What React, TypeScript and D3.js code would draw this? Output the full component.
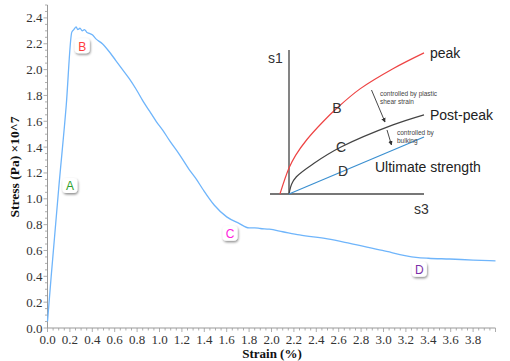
import React from "react";
import * as d3 from "d3";

// Main stress-strain curve (strain in %, stress in Pa x10^7)
const strain = [0, 0.033, 0.1, 0.167, 0.217, 0.235, 0.256, 0.27, 0.29, 0.31, 0.33, 0.35, 0.375, 0.4, 0.43, 0.49, 0.55, 0.61, 0.67, 0.73, 0.79, 0.85, 0.91, 0.97, 1.03, 1.09, 1.18, 1.27, 1.33, 1.39, 1.49, 1.6, 1.71, 1.8, 1.85, 1.9, 1.98, 2.1, 2.25, 2.5, 2.7, 2.99, 3.29, 3.4, 3.59, 3.8, 4.0];
const stress = [0.05, 0.4, 1.08, 1.72, 2.29, 2.31, 2.33, 2.31, 2.32, 2.3, 2.31, 2.29, 2.28, 2.27, 2.24, 2.2, 2.14, 2.07, 2.0, 1.93, 1.85, 1.76, 1.68, 1.6, 1.53, 1.45, 1.34, 1.22, 1.15, 1.07, 0.95, 0.86, 0.81, 0.775, 0.775, 0.77, 0.765, 0.745, 0.72, 0.69, 0.655, 0.6, 0.547, 0.54, 0.534, 0.526, 0.52];

const xTicks = [0, 0.2, 0.4, 0.6, 0.8, 1.0, 1.2, 1.4, 1.6, 1.8, 2.0, 2.2, 2.4, 2.6, 2.8, 3.0, 3.2, 3.4, 3.6, 3.8];
const yTicks = [0, 0.2, 0.4, 0.6, 0.8, 1.0, 1.2, 1.4, 1.6, 1.8, 2.0, 2.2, 2.4];

// Annotation markers on the curve
const markerLabels = ["A", "B", "C", "D"];
const markerStrain = [0.2, 0.31, 1.63, 3.32];
const markerStress = [1.1, 2.18, 0.73, 0.45];
const markerColors = ["#2ca02c", "#ff3b3b", "#ff22dd", "#7a2fa8"];

// Inset schematic (s3, s1) in normalised units
const peakS3 = [-0.067, 0, 0.05, 0.13, 0.25, 0.356, 0.526, 0.77, 1.0];
const peakS1 = [0, 0.18, 0.27, 0.375, 0.5, 0.597, 0.73, 0.87, 0.98];
const postS3 = [0, 0.02, 0.055, 0.18, 0.385, 0.77, 1.0];
const postS1 = [0, 0.07, 0.12, 0.21, 0.326, 0.48, 0.55];
const ultS3 = [0, 1.0];
const ultS1 = [0, 0.396];

export default function App() {
  const W = 510, H = 361;
  const x = d3.scaleLinear().domain([0, 4]).range([47.5, 495.5]);
  const y = d3.scaleLinear().domain([0, 2.5]).range([328, 5]);

  const pts: [number, number][] = strain.map((s, i) => [s, stress[i]]);
  const line = d3.line<[number, number]>().x(d => x(d[0])).y(d => y(d[1])).curve(d3.curveMonotoneX);

  const xMinor = d3.range(0, 4.0001, 0.05);
  const yMinor = d3.range(0, 2.5001, 0.05);

  const ix = d3.scaleLinear().domain([0, 1]).range([289, 424]);
  const iy = d3.scaleLinear().domain([0, 1]).range([194, 50]);
  const iline = d3.line<[number, number]>().x(d => ix(d[0])).y(d => iy(d[1])).curve(d3.curveCatmullRom.alpha(0.5));
  const peakPts: [number, number][] = peakS3.map((v, i) => [v, peakS1[i]]);
  const postPts: [number, number][] = postS3.map((v, i) => [v, postS1[i]]);
  const ultPts: [number, number][] = ultS3.map((v, i) => [v, ultS1[i]]);

  const serif = "'Liberation Serif', 'Times New Roman', serif";
  const sans = "'Liberation Sans', Arial, sans-serif";

  return (
    <svg width={W} height={H} style={{ position: "absolute", left: 0, top: 0, background: "#fff" }}>
      <defs>
        <filter id="sh" x="-50%" y="-50%" width="200%" height="200%">
          <feDropShadow dx="0.8" dy="1.5" stdDeviation="1.2" floodColor="#000" floodOpacity="0.45" />
        </filter>
        <marker id="arr" viewBox="0 0 10 10" refX="9" refY="5" markerWidth="5" markerHeight="5" orient="auto">
          <path d="M0,0 L10,5 L0,10 z" fill="#333" />
        </marker>
      </defs>

      {/* axes */}
      <line x1={x(0)} x2={x(4)} y1={328} y2={328} stroke="#999" strokeWidth={1} />
      <line x1={47.5} x2={47.5} y1={y(2.5)} y2={y(0)} stroke="#999" strokeWidth={1} />
      {xMinor.map((v, i) => (
        <line key={"xm" + i} x1={x(v)} x2={x(v)} y1={328} y2={328 + (i % 4 === 0 ? 4 : 2.5)} stroke="#999" strokeWidth={0.8} />
      ))}
      {yMinor.map((v, i) => (
        <line key={"ym" + i} x1={47.5} x2={47.5 - (i % 4 === 0 ? 4 : 2.5)} y1={y(v)} y2={y(v)} stroke="#999" strokeWidth={0.8} />
      ))}
      {xTicks.map(v => (
        <text key={"xt" + v} x={x(v)} y={343.5} textAnchor="middle" fontFamily={serif} fontSize={13} fill="#333">
          {v.toFixed(1)}
        </text>
      ))}
      {yTicks.map(v => (
        <text key={"yt" + v} x={42.5} y={y(v) + 4.5} textAnchor="end" fontFamily={serif} fontSize={13} fill="#333">
          {v.toFixed(1)}
        </text>
      ))}
      <text x={272} y={358} textAnchor="middle" fontFamily={serif} fontWeight="bold" fontSize={13} fill="#111">
        Strain (%)
      </text>
      <text transform="translate(19,167) rotate(-90)" textAnchor="middle" fontFamily={serif} fontWeight="bold" fontSize={13.5} fill="#111">
        Stress (Pa) ×10^7
      </text>

      {/* curve */}
      <path d={line(pts) || ""} fill="none" stroke="#6fb5fb" strokeWidth={1.3} />

      {/* markers */}
      {markerLabels.map((m, i) => (
        <g key={m} transform={`translate(${x(markerStrain[i])},${y(markerStress[i])})`}>
          <rect x={-7.5} y={-8} width={15} height={15} rx={4} fill="#fff" filter="url(#sh)" />
          <text x={0} y={4.5} textAnchor="middle" fontFamily={sans} fontSize={12} fill={markerColors[i]}>{m}</text>
        </g>
      ))}

      {/* inset schematic */}
      <line x1={270} x2={424} y1={194} y2={194} stroke="#777" strokeWidth={1.8} />
      <line x1={289} x2={289} y1={50} y2={194} stroke="#777" strokeWidth={1.8} />
      <path d={iline(peakPts) || ""} fill="none" stroke="#ee4444" strokeWidth={1.2} />
      <path d={iline(postPts) || ""} fill="none" stroke="#444" strokeWidth={1.2} />
      <path d={iline(ultPts) || ""} fill="none" stroke="#3a8fd0" strokeWidth={1.2} />
      <text x={268} y={63} fontFamily={sans} fontSize={14} fill="#333">s1</text>
      <text x={414} y={214} fontFamily={sans} fontSize={14} fill="#333">s3</text>
      <text x={430} y={58} fontFamily={sans} fontSize={14} fill="#222">peak</text>
      <text x={430} y={120} fontFamily={sans} fontSize={14} fill="#222">Post-peak</text>
      <text x={375} y={172} fontFamily={sans} fontSize={14} fill="#222">Ultimate strength</text>
      <text x={337} y={113} textAnchor="middle" fontFamily={sans} fontSize={14} fill="#333">B</text>
      <text x={341} y={152} textAnchor="middle" fontFamily={sans} fontSize={14} fill="#333">C</text>
      <text x={343} y={176} textAnchor="middle" fontFamily={sans} fontSize={14} fill="#333">D</text>
      <text x={380} y={95.5} fontFamily={sans} fontSize={6.5} fill="#444">controlled by plastic</text>
      <text x={380} y={104} fontFamily={sans} fontSize={6.5} fill="#444">shear strain</text>
      <text x={397} y={134.5} fontFamily={sans} fontSize={6.5} fill="#444">controlled by</text>
      <text x={397} y={143} fontFamily={sans} fontSize={6.5} fill="#444">bulking</text>
      <line x1={371.5} y1={90} x2={385} y2={122} stroke="#333" strokeWidth={0.9} markerEnd="url(#arr)" />
      <line x1={387} y1={130} x2={391.5} y2={145} stroke="#333" strokeWidth={0.9} markerEnd="url(#arr)" />
    </svg>
  );
}
